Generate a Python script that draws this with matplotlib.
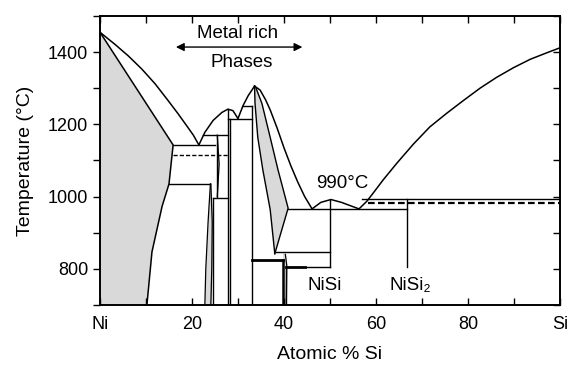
import numpy as np
import matplotlib.pyplot as plt
from matplotlib.ticker import MultipleLocator

plt.rcParams['font.family'] = ['Liberation Sans', 'DejaVu Sans']

# liquidus branches (at.% Si, deg C)
liq_ni_x = [0, 3.3, 6.2, 9.1, 12.0, 14.8, 17.0, 18.8, 20.3, 21.5]
liq_ni_t = [1455, 1421, 1389, 1353, 1312, 1266, 1229, 1197, 1170, 1143]
liq_mid_x = [21.5, 22.8, 24.6, 26.5, 27.8, 28.9, 30.0, 31.1, 32.2, 33.6]
liq_mid_t = [1143, 1178, 1211, 1233, 1242, 1238, 1216, 1252, 1279, 1306]
liq_ni2si_x = [33.6, 34.8, 36.0, 37.0, 38.5, 40.0, 41.5, 43.0, 44.5, 46.1]
liq_ni2si_t = [1306, 1295, 1268, 1240, 1190, 1135, 1085, 1040, 1000, 966]
liq_nisi_x = [46.1, 48.0, 50.2, 52.5, 56.3]
liq_nisi_t = [966, 984, 992, 984, 966]
liq_si_x = [56.3, 58.0, 59.4, 61.6, 64.5, 68.1, 71.7, 75.4, 79.0, 82.6, 86.2, 89.9, 93.5, 97.1, 100]
liq_si_t = [966, 987, 1010, 1047, 1092, 1145, 1193, 1231, 1266, 1300, 1330, 1357, 1380, 1398, 1412]

# (Ni) solid solution field
ni_ss_x = [0, 15.9, 15.0, 13.5, 11.3, 10.2, 0]
ni_ss_t = [1455, 1143, 1035, 973, 847, 700, 700]

# theta-Ni2Si field
theta_left_x = [33.6, 33.7, 34.3, 35.4, 37.0, 38.0]
theta_left_t = [1306, 1258, 1164, 1074, 964, 842]
theta_right_x = [40.9, 38.7, 37.0, 35.2, 33.9]
theta_right_t = [968, 1074, 1164, 1258, 1301]

# narrow lenses
beta_left_x = [24.0, 23.5, 23.0, 22.8]
beta_right_x = [24.1, 24.4, 24.3, 24.1]
beta_t = [1035, 930, 800, 700]
beta_hi_left_x = [25.4, 25.4, 25.4]
beta_hi_right_x = [25.5, 25.9, 25.5]
beta_hi_t = [1170, 1090, 1000]
ni3si2_lens_x = [39.8, 40.3, 40.6, 40.5, 39.8]
ni3si2_lens_t = [845, 840, 810, 700, 700]

# horizontal lines: (x0, x1, T, width)
hlines = [
    (15.9, 25.0, 1143, 1.0),
    (22.4, 27.8, 1170, 1.0),
    (15.0, 24.0, 1035, 1.0),
    (24.6, 27.8, 995, 1.0),
    (27.8, 33.1, 1216, 1.0),
    (31.1, 33.1, 1252, 1.0),
    (33.1, 39.8, 825, 2.0),
    (38.3, 50.0, 847, 1.0),
    (40.4, 44.6, 805, 2.0),
    (44.6, 50.0, 805, 1.0),
    (40.9, 66.7, 966, 1.0),
    (57.0, 100, 993, 1.0),
]
# vertical lines: (x, T0, T1, width)
vlines = [
    (24.6, 995, 700, 1.0),
    (25.4, 1170, 1000, 1.0),
    (27.8, 1242, 700, 1.0),
    (28.2, 1216, 700, 1.0),
    (33.1, 1252, 700, 1.0),
    (39.8, 825, 700, 1.8),
    (40.4, 805, 700, 1.0),
    (50.0, 992, 805, 1.0),
    (66.7, 993, 805, 1.0),
]
# dashed transformation lines
dashed = [(15.9, 27.8, 1115, 1.0), (58.3, 100, 981, 1.6)]

gray = '#d9d9d9'
fig, ax = plt.subplots(figsize=(5.7, 3.7), dpi=100)
fig.subplots_adjust(left=0.1754, right=0.9825, bottom=0.1757, top=0.9568)

ax.fill(ni_ss_x, ni_ss_t, color=gray, lw=0)
ax.fill(theta_left_x + theta_right_x, theta_left_t + theta_right_t, color=gray, lw=0)
ax.fill_betweenx(beta_t, beta_left_x, beta_right_x, color=gray, lw=0)
ax.fill_betweenx(beta_hi_t, beta_hi_left_x, beta_hi_right_x, color=gray, lw=0)
ax.fill(ni3si2_lens_x, ni3si2_lens_t, color=gray, lw=0)

k = 'black'
for xs, ts in [(liq_ni_x, liq_ni_t), (liq_mid_x, liq_mid_t), (liq_ni2si_x, liq_ni2si_t),
               (liq_nisi_x, liq_nisi_t), (liq_si_x, liq_si_t)]:
    ax.plot(xs, ts, color=k, lw=1.1)
ax.plot(ni_ss_x[:6], ni_ss_t[:6], color=k, lw=1.1)
ax.plot(theta_left_x, theta_left_t, color=k, lw=1.0)
ax.plot(theta_right_x[::-1] + [38.0], theta_right_t[::-1] + [842], color=k, lw=1.0)
ax.plot(beta_left_x, beta_t, color=k, lw=0.9)
ax.plot(beta_right_x, beta_t, color=k, lw=0.9)
ax.plot(beta_hi_right_x, beta_hi_t, color=k, lw=0.9)
ax.plot(ni3si2_lens_x[1:4], ni3si2_lens_t[1:4], color=k, lw=0.9)

for x0, x1, t, w in hlines:
    ax.plot([x0, x1], [t, t], color=k, lw=w)
for x, t0, t1, w in vlines:
    ax.plot([x, x], [t0, t1], color=k, lw=w)
for x0, x1, t, w in dashed:
    ax.plot([x0, x1], [t, t], color=k, lw=w, ls=(0, (3, 1.5)))

# annotations
ax.annotate('', xy=(15.9, 1414), xytext=(44.6, 1414),
            arrowprops=dict(arrowstyle='<|-|>', color=k, lw=1.0, mutation_scale=12))
ax.text(29.9, 1452, 'Metal rich', ha='center', va='center', fontsize=13.5)
ax.text(30.8, 1370, 'Phases', ha='center', va='center', fontsize=13.5)
ax.text(52.7, 1036, '990°C', ha='center', va='center', fontsize=13.5)
ax.text(48.9, 753, 'NiSi', ha='center', va='center', fontsize=13.5)
ax.text(67.4, 753, 'NiSi₂', ha='center', va='center', fontsize=13.5)

ax.set_xlim(0, 100)
ax.set_ylim(700, 1500)
ax.set_xticks([0, 20, 40, 60, 80, 100])
ax.set_xticklabels(['Ni', '20', '40', '60', '80', 'Si'])
ax.xaxis.set_minor_locator(MultipleLocator(10))
ax.set_yticks([800, 1000, 1200, 1400])
ax.yaxis.set_minor_locator(MultipleLocator(100))
ax.tick_params(axis='x', which='both', direction='in', top=True, length=5, width=1,
               labelsize=13, pad=8)
ax.tick_params(axis='y', which='both', direction='out', length=5, width=1, labelsize=13)

# inward ticks on the right edge
ax_r = ax.twinx()
ax_r.set_ylim(700, 1500)
ax_r.yaxis.set_major_locator(MultipleLocator(100))
ax_r.tick_params(axis='y', which='both', direction='in', length=5, width=1, labelright=False)

for a in (ax, ax_r):
    for s in a.spines.values():
        s.set_linewidth(1.2)
ax.set_xlabel('Atomic % Si', fontsize=14, labelpad=9)
ax.set_ylabel('Temperature (°C)', fontsize=14, labelpad=10)

fig.savefig('out.png', dpi=100)
